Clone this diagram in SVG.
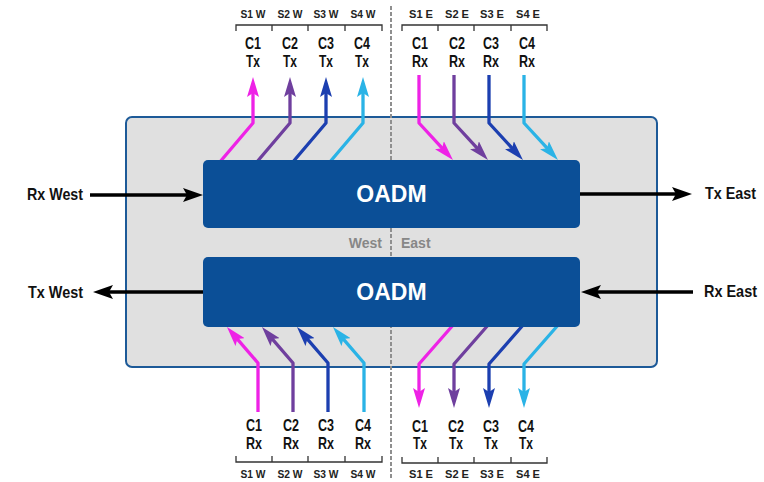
<svg xmlns="http://www.w3.org/2000/svg" width="764" height="482" viewBox="0 0 764 482">
  <style>
    .shelf { fill: #e0e0e0; stroke: #1d5a98; stroke-width: 2; }
    .oadm { fill: #0b4f97; }
    .oadm-t { font-family: "Liberation Sans", Arial, sans-serif; font-weight: bold; font-size: 23px; fill: #ffffff; text-anchor: middle; }
    .divider { stroke: #8f8f8f; stroke-width: 2; stroke-dasharray: 4 2; fill: none; }
    .side { font-family: "Liberation Sans", Arial, sans-serif; font-weight: bold; font-size: 14px; fill: #878787; }
    .lbl { font-family: "Liberation Sans", Arial, sans-serif; font-weight: bold; font-size: 16.5px; fill: #111111; }
    .port { font-family: "Liberation Sans", Arial, sans-serif; font-weight: bold; font-size: 16.5px; fill: #111111; text-anchor: middle; }
    .hdr { font-family: "Liberation Sans", Arial, sans-serif; font-weight: bold; font-size: 11.5px; fill: #222222; text-anchor: middle; }
    .brk { stroke: #333333; stroke-width: 1.3; fill: none; }
    .ln { fill: none; stroke-width: 3.3; stroke-linejoin: round; }
    .k { stroke: #000000; marker-end: url(#ah-k); }
    .c1 { stroke: #ee22e6; marker-end: url(#ah-c1); }
    .c2 { stroke: #6f3f9e; marker-end: url(#ah-c2); }
    .c3 { stroke: #1c3fb0; marker-end: url(#ah-c3); }
    .c4 { stroke: #2ab3e6; marker-end: url(#ah-c4); }
  </style>
  <defs>
    <marker id="ah-k" markerUnits="userSpaceOnUse" markerWidth="22" markerHeight="14" viewBox="0 0 22 14" refX="6" refY="7" orient="auto">
      <path d="M0,0 L20,7 L0,14 L4,7 Z" fill="#000000"/>
    </marker>
    <marker id="ah-c1" markerUnits="userSpaceOnUse" markerWidth="22" markerHeight="12" viewBox="0 0 22 12" refX="6" refY="6" orient="auto">
      <path d="M0,0 L20,6 L0,12 L4,6 Z" fill="#ee22e6"/>
    </marker>
    <marker id="ah-c2" markerUnits="userSpaceOnUse" markerWidth="22" markerHeight="12" viewBox="0 0 22 12" refX="6" refY="6" orient="auto">
      <path d="M0,0 L20,6 L0,12 L4,6 Z" fill="#6f3f9e"/>
    </marker>
    <marker id="ah-c3" markerUnits="userSpaceOnUse" markerWidth="22" markerHeight="12" viewBox="0 0 22 12" refX="6" refY="6" orient="auto">
      <path d="M0,0 L20,6 L0,12 L4,6 Z" fill="#1c3fb0"/>
    </marker>
    <marker id="ah-c4" markerUnits="userSpaceOnUse" markerWidth="22" markerHeight="12" viewBox="0 0 22 12" refX="6" refY="6" orient="auto">
      <path d="M0,0 L20,6 L0,12 L4,6 Z" fill="#2ab3e6"/>
    </marker>
  </defs>

  <rect width="764" height="482" fill="#ffffff"/>

  <!-- shelf enclosure -->
  <g id="shelf">
    <rect class="shelf" x="126" y="117" width="531" height="250" rx="6"/>
  </g>

  <!-- west / east divider -->
  <line class="divider" x1="391" y1="6" x2="391" y2="480"/>

  <!-- connectors -->
  <g id="connectors">
    <!-- line side -->
    <path class="ln k" d="M90,195 L189,195"/>
    <path class="ln k" d="M204,292 L107,292"/>
    <path class="ln k" d="M579,194 L678,194"/>
    <path class="ln k" d="M693,292 L595,292"/>

    <!-- west drop (top, Tx up) -->
    <path class="ln c1" d="M219,163 L253,123 L253,91"/>
    <path class="ln c2" d="M256,163 L290,123 L290,91"/>
    <path class="ln c3" d="M292,163 L326,123 L326,91"/>
    <path class="ln c4" d="M329,163 L363,123 L363,91"/>

    <!-- east add (top, Rx down) -->
    <path class="ln c1" d="M419,75 L419,123 L443.5,149.7"/>
    <path class="ln c2" d="M454,75 L454,123 L478.5,149.7"/>
    <path class="ln c3" d="M489,75 L489,123 L513.5,149.7"/>
    <path class="ln c4" d="M524,75 L524,123 L548.5,149.7"/>

    <!-- west add (bottom, Rx up) -->
    <path class="ln c1" d="M258,412 L258,363 L236.1,337.6"/>
    <path class="ln c2" d="M293,412 L293,363 L271.1,337.6"/>
    <path class="ln c3" d="M328,412 L328,363 L306.1,337.6"/>
    <path class="ln c4" d="M364,412 L364,363 L342.1,337.6"/>

    <!-- east drop (bottom, Tx down) -->
    <path class="ln c1" d="M454,324 L419,364 L419,394"/>
    <path class="ln c2" d="M489,324 L454,364 L454,394"/>
    <path class="ln c3" d="M524,324 L489,364 L489,394"/>
    <path class="ln c4" d="M559,324 L524,364 L524,394"/>
  </g>

  <!-- OADM west to east -->
  <g id="oadm-we">
    <rect class="oadm" x="203" y="160" width="377" height="68" rx="5"/>
    <text class="oadm-t" x="391.5" y="202">OADM</text>
  </g>

  <!-- OADM east to west -->
  <g id="oadm-ew">
    <rect class="oadm" x="203" y="257" width="377" height="70" rx="5"/>
    <text class="oadm-t" x="391.5" y="300">OADM</text>
  </g>

  <g id="side-labels">
    <text class="side" x="382" y="248" text-anchor="end">West</text>
    <text class="side" x="401" y="248">East</text>
  </g>

  <!-- line ports -->
  <g id="rx-west"><text class="lbl" x="27" y="200" textLength="56" lengthAdjust="spacingAndGlyphs">Rx West</text></g>
  <g id="tx-west"><text class="lbl" x="28" y="298" textLength="55" lengthAdjust="spacingAndGlyphs">Tx West</text></g>
  <g id="tx-east"><text class="lbl" x="705" y="199" textLength="51" lengthAdjust="spacingAndGlyphs">Tx East</text></g>
  <g id="rx-east"><text class="lbl" x="704" y="297" textLength="53" lengthAdjust="spacingAndGlyphs">Rx East</text></g>

  <!-- top west client ports -->
  <g id="top-west">
    <text class="hdr" x="253" y="18" textLength="25" lengthAdjust="spacingAndGlyphs">S1 W</text>
    <text class="hdr" x="290" y="18" textLength="25" lengthAdjust="spacingAndGlyphs">S2 W</text>
    <text class="hdr" x="326" y="18" textLength="25" lengthAdjust="spacingAndGlyphs">S3 W</text>
    <text class="hdr" x="363" y="18" textLength="25" lengthAdjust="spacingAndGlyphs">S4 W</text>
    <path class="brk" d="M236,31 V25 H382 V31 M272,25 V31 M308,25 V31 M345,25 V31"/>
    <g id="tw-c1"><text class="port" x="253" y="49" textLength="16" lengthAdjust="spacingAndGlyphs">C1</text><text class="port" x="253" y="67" textLength="14" lengthAdjust="spacingAndGlyphs">Tx</text></g>
    <g id="tw-c2"><text class="port" x="290" y="49" textLength="16" lengthAdjust="spacingAndGlyphs">C2</text><text class="port" x="290" y="67" textLength="14" lengthAdjust="spacingAndGlyphs">Tx</text></g>
    <g id="tw-c3"><text class="port" x="326" y="49" textLength="16" lengthAdjust="spacingAndGlyphs">C3</text><text class="port" x="326" y="67" textLength="14" lengthAdjust="spacingAndGlyphs">Tx</text></g>
    <g id="tw-c4"><text class="port" x="362" y="49" textLength="16" lengthAdjust="spacingAndGlyphs">C4</text><text class="port" x="362" y="67" textLength="14" lengthAdjust="spacingAndGlyphs">Tx</text></g>
  </g>

  <!-- top east client ports -->
  <g id="top-east">
    <text class="hdr" x="421" y="18" textLength="24" lengthAdjust="spacingAndGlyphs">S1 E</text>
    <text class="hdr" x="457" y="18" textLength="24" lengthAdjust="spacingAndGlyphs">S2 E</text>
    <text class="hdr" x="492" y="18" textLength="24" lengthAdjust="spacingAndGlyphs">S3 E</text>
    <text class="hdr" x="528" y="18" textLength="24" lengthAdjust="spacingAndGlyphs">S4 E</text>
    <path class="brk" d="M402,31 V25 H547 V31 M438,25 V31 M474,25 V31 M511,25 V31"/>
    <g id="te-c1"><text class="port" x="420" y="49" textLength="16" lengthAdjust="spacingAndGlyphs">C1</text><text class="port" x="420" y="67" textLength="16" lengthAdjust="spacingAndGlyphs">Rx</text></g>
    <g id="te-c2"><text class="port" x="457" y="49" textLength="16" lengthAdjust="spacingAndGlyphs">C2</text><text class="port" x="457" y="67" textLength="16" lengthAdjust="spacingAndGlyphs">Rx</text></g>
    <g id="te-c3"><text class="port" x="491" y="49" textLength="16" lengthAdjust="spacingAndGlyphs">C3</text><text class="port" x="491" y="67" textLength="16" lengthAdjust="spacingAndGlyphs">Rx</text></g>
    <g id="te-c4"><text class="port" x="527" y="49" textLength="16" lengthAdjust="spacingAndGlyphs">C4</text><text class="port" x="527" y="67" textLength="16" lengthAdjust="spacingAndGlyphs">Rx</text></g>
  </g>

  <!-- bottom west client ports -->
  <g id="bottom-west">
    <g id="bw-c1"><text class="port" x="254" y="431" textLength="16" lengthAdjust="spacingAndGlyphs">C1</text><text class="port" x="254" y="449" textLength="16" lengthAdjust="spacingAndGlyphs">Rx</text></g>
    <g id="bw-c2"><text class="port" x="291" y="431" textLength="16" lengthAdjust="spacingAndGlyphs">C2</text><text class="port" x="291" y="449" textLength="16" lengthAdjust="spacingAndGlyphs">Rx</text></g>
    <g id="bw-c3"><text class="port" x="326" y="431" textLength="16" lengthAdjust="spacingAndGlyphs">C3</text><text class="port" x="326" y="449" textLength="16" lengthAdjust="spacingAndGlyphs">Rx</text></g>
    <g id="bw-c4"><text class="port" x="363" y="431" textLength="16" lengthAdjust="spacingAndGlyphs">C4</text><text class="port" x="363" y="449" textLength="16" lengthAdjust="spacingAndGlyphs">Rx</text></g>
    <path class="brk" d="M236,456 V462 H382 V456 M272,462 V456 M308,462 V456 M345,462 V456"/>
    <text class="hdr" x="253" y="478" textLength="25" lengthAdjust="spacingAndGlyphs">S1 W</text>
    <text class="hdr" x="290" y="478" textLength="25" lengthAdjust="spacingAndGlyphs">S2 W</text>
    <text class="hdr" x="326" y="478" textLength="25" lengthAdjust="spacingAndGlyphs">S3 W</text>
    <text class="hdr" x="363" y="478" textLength="25" lengthAdjust="spacingAndGlyphs">S4 W</text>
  </g>

  <!-- bottom east client ports -->
  <g id="bottom-east">
    <g id="be-c1"><text class="port" x="420" y="432" textLength="16" lengthAdjust="spacingAndGlyphs">C1</text><text class="port" x="420" y="449" textLength="14" lengthAdjust="spacingAndGlyphs">Tx</text></g>
    <g id="be-c2"><text class="port" x="456" y="432" textLength="16" lengthAdjust="spacingAndGlyphs">C2</text><text class="port" x="456" y="449" textLength="14" lengthAdjust="spacingAndGlyphs">Tx</text></g>
    <g id="be-c3"><text class="port" x="491" y="432" textLength="16" lengthAdjust="spacingAndGlyphs">C3</text><text class="port" x="491" y="449" textLength="14" lengthAdjust="spacingAndGlyphs">Tx</text></g>
    <g id="be-c4"><text class="port" x="526" y="432" textLength="16" lengthAdjust="spacingAndGlyphs">C4</text><text class="port" x="526" y="449" textLength="14" lengthAdjust="spacingAndGlyphs">Tx</text></g>
    <path class="brk" d="M402,457 V463 H547 V457 M438,463 V457 M474,463 V457 M511,463 V457"/>
    <text class="hdr" x="421" y="478" textLength="24" lengthAdjust="spacingAndGlyphs">S1 E</text>
    <text class="hdr" x="457" y="478" textLength="24" lengthAdjust="spacingAndGlyphs">S2 E</text>
    <text class="hdr" x="492" y="478" textLength="24" lengthAdjust="spacingAndGlyphs">S3 E</text>
    <text class="hdr" x="528" y="478" textLength="24" lengthAdjust="spacingAndGlyphs">S4 E</text>
  </g>
</svg>
